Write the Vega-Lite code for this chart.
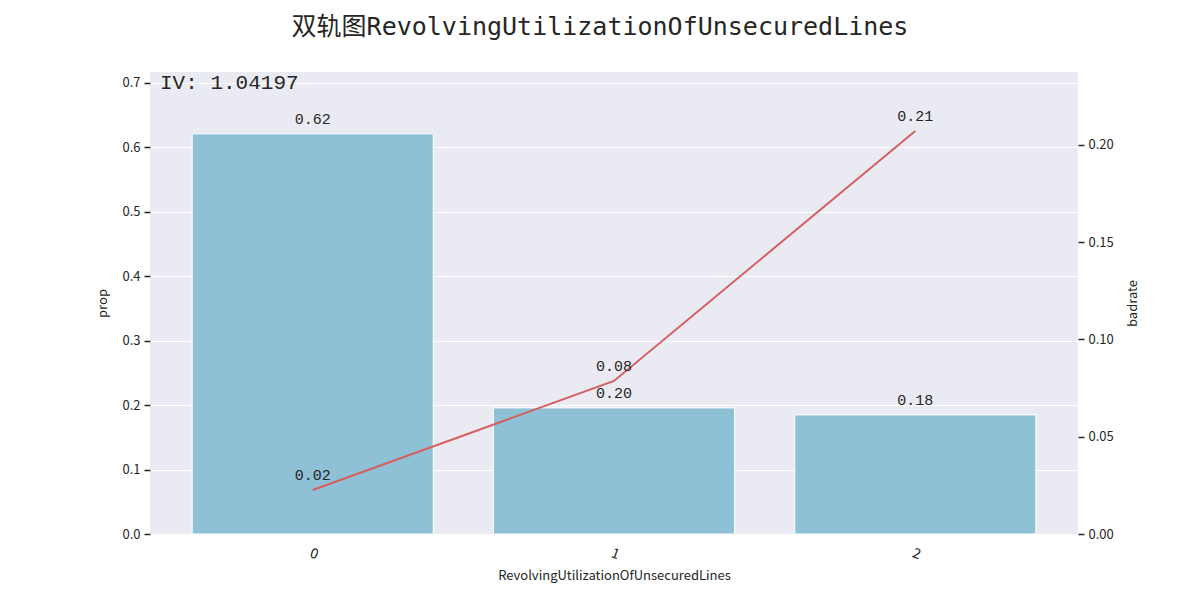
{
  "$schema": "https://vega.github.io/schema/vega-lite/v6.json",
  "autosize": {"type": "none"},
  "padding": {"left": 150, "top": 72, "right": 122, "bottom": 66},
  "width": 928,
  "height": 462,
  "background": "white",
  "view": {"fill": "#EAEAF2", "stroke": null},
  "title": {
    "text": "双轨图RevolvingUtilizationOfUnsecuredLines",
    "font": "DejaVu Sans Mono, Noto Sans CJK SC",
    "fontSize": 25,
    "fontWeight": "normal",
    "color": "#262626",
    "anchor": "middle",
    "dx": -14,
    "offset": 32
  },
  "config": {
    "view": {"fill": "#EAEAF2", "stroke": null},
    "axis": {
      "labelFont": "Noto Sans CJK SC",
      "titleFont": "Noto Sans CJK SC",
      "labelFontSize": 13,
      "titleFontSize": 13,
      "titleFontWeight": "normal",
      "labelColor": "#262626",
      "titleColor": "#262626",
      "tickColor": "#262626",
      "tickWidth": 1.5,
      "domain": false,
      "gridColor": "white",
      "gridWidth": 1
    }
  },
  "data": {
    "values": [
      {"bin": "0", "prop": 0.621, "badrate": 0.0226, "prop_label": "0.62", "badrate_label": "0.02"},
      {"bin": "1", "prop": 0.1957, "badrate": 0.0787, "prop_label": "0.20", "badrate_label": "0.08"},
      {"bin": "2", "prop": 0.1848, "badrate": 0.2072, "prop_label": "0.18", "badrate_label": "0.21"}
    ]
  },
  "encoding": {
    "x": {
      "field": "bin",
      "type": "nominal",
      "sort": null,
      "scale": {"paddingInner": 0.2, "paddingOuter": 0.14},
      "axis": {
        "title": "RevolvingUtilizationOfUnsecuredLines",
        "labelAngle": 20,
        "labelFontSize": 14,
        "ticks": false,
        "grid": false,
        "labelPadding": 12,
        "titlePadding": 8
      }
    }
  },
  "layer": [
    {
      "layer": [
        {
          "mark": {"type": "bar", "color": "#8EC0D6", "stroke": "white", "strokeWidth": 1},
          "encoding": {
            "y": {
              "field": "prop",
              "type": "quantitative",
              "scale": {"domain": [0, 0.717], "nice": false},
              "axis": {
                "title": "prop",
                "format": ".1f",
                "values": [0, 0.1, 0.2, 0.3, 0.4, 0.5, 0.6, 0.7],
                "tickSize": 6,
                "labelPadding": 4,
                "titlePadding": 12
              }
            }
          }
        },
        {
          "mark": {"type": "text", "baseline": "bottom", "dy": -7, "font": "Liberation Mono", "fontSize": 15, "color": "#262626"},
          "encoding": {
            "y": {"field": "prop", "type": "quantitative"},
            "text": {"field": "prop_label"}
          }
        },
        {
          "data": {"values": [{"iv": "IV: 1.04197"}]},
          "mark": {"type": "text", "align": "left", "baseline": "middle", "x": 10, "y": 11, "font": "Liberation Mono", "fontSize": 21, "color": "#262626"},
          "encoding": {
            "x": null,
            "text": {"field": "iv"}
          }
        }
      ]
    },
    {
      "layer": [
        {
          "mark": {"type": "line", "color": "#D65F5F", "strokeWidth": 2},
          "encoding": {
            "y": {
              "field": "badrate",
              "type": "quantitative",
              "scale": {"domain": [0, 0.2375], "nice": false},
              "axis": {
                "orient": "right",
                "title": "badrate",
                "titleAngle": 270,
                "format": ".2f",
                "values": [0, 0.05, 0.1, 0.15, 0.2],
                "grid": false,
                "tickSize": 6,
                "labelPadding": 4,
                "titlePadding": 26
              }
            }
          }
        },
        {
          "mark": {"type": "text", "baseline": "bottom", "dy": -7, "font": "Liberation Mono", "fontSize": 15, "color": "#262626"},
          "encoding": {
            "y": {"field": "badrate", "type": "quantitative"},
            "text": {"field": "badrate_label"}
          }
        }
      ]
    }
  ],
  "resolve": {"scale": {"y": "independent"}}
}
